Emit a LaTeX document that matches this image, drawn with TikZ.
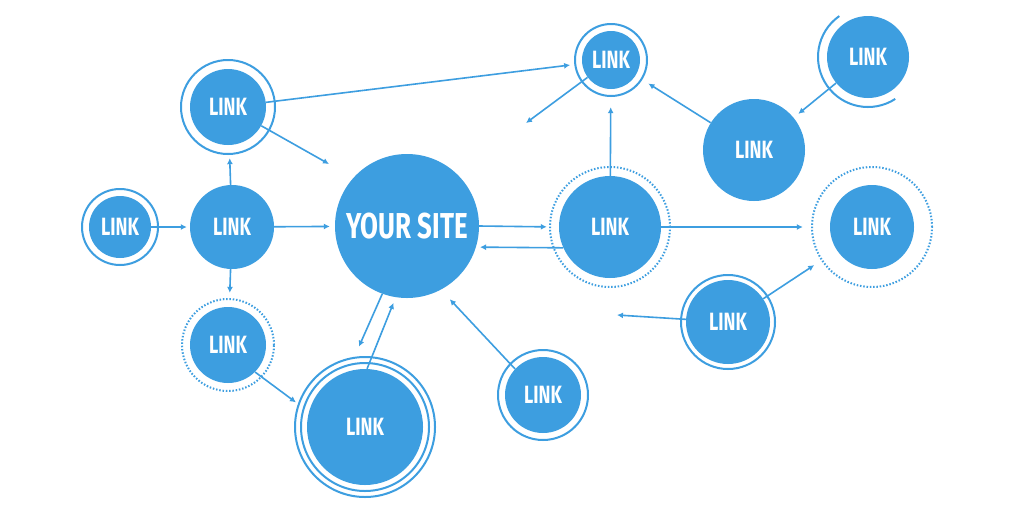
\documentclass[tikz,border=0pt]{standalone}
\usepackage{fontspec}
\setmainfont{Fira Sans}[FakeStretch=0.72]
\usetikzlibrary{arrows.meta}
\definecolor{linkblue}{RGB}{61,158,224}

\begin{document}
\begin{tikzpicture}[x=1pt,y=-1pt,
  bubble/.style={circle, fill=linkblue, text=white, inner sep=0pt, minimum size=#1,
    font=\bfseries\fontsize{25}{25}\selectfont},
  ring/.style={draw=linkblue, line width=2pt},
  dotring/.style={draw=linkblue, line width=2pt, dash pattern=on 1.5pt off 1.8pt},
  arr/.style={draw=linkblue, line width=1.6pt, -{Latex[length=6pt,width=6pt]}},
  stopshort/.style={shorten >=#1pt}]

\useasboundingbox (0,0) rectangle (1024,512);
\fill[white] (0,0) rectangle (1024,512);

% the site in the middle
\node[bubble=144pt, font=\bfseries\fontsize{36}{36}\selectfont] (site) at (407,226) {YOUR SITE};

% links, left side
\node[bubble=76pt] (l1) at (228,107) {LINK};
\node[bubble=62pt] (l2) at (120,227) {LINK};
\node[bubble=84pt] (l3) at (232,227) {LINK};
\node[bubble=76pt] (l4) at (228,345) {LINK};
\node[bubble=116pt] (l6) at (365,427) {LINK};
\node[bubble=76pt] (l7) at (543,395) {LINK};

% links, right side
\node[bubble=58pt] (l8) at (611,60) {LINK};
\node[bubble=102pt] (l9) at (610,227) {LINK};
\node[bubble=102pt] (l10) at (754,150) {LINK};
\node[bubble=82pt] (l11) at (868,57) {LINK};
\node[bubble=84pt] (l12) at (872,227) {LINK};
\node[bubble=84pt] (l13) at (728,322) {LINK};

% rings round the links
\foreach \n/\r in {l1/47pt, l2/38pt, l6/64pt, l6/70pt, l7/45pt, l8/36pt, l13/47pt}{
    \draw[ring] (\n) circle[radius=\r];
}
\foreach \n/\r in {l4/46pt, l9/60pt, l12/60pt}{
    \draw[dotring] (\n) circle[radius=\r];
}
\draw[ring] (l11) ++(125:50pt) arc[start angle=125, end angle=303, radius=50pt];

% free ends
\coordinate (c1) at (329,164);
\coordinate (c2) at (526,123);
\coordinate (c3) at (617,315);

% connectors
\draw[arr, stopshort=12] (l1) -- (l8);
\draw[arr] (l1) -- (c1);
\draw[arr, stopshort=13] (l3) -- (l1);
\draw[arr, stopshort=3] (l2) -- (l3);
\draw[arr, stopshort=5] (l3) -- (site);
\draw[arr, stopshort=14] (l3) -- (l4);
\draw[arr, stopshort=16] (l4.315) -- (l6.165);
\draw[arr, stopshort=27] (site.250) -- (l6.107);
\draw[arr, stopshort=6] (l6.88) -- (site.261);
\draw[arr, stopshort=13] (l7.137) -- (site.298);
\draw[arr, stopshort=12] (site.east) -- (l9.west);
\draw[arr, stopshort=4] (l9.204) -- (site.343);
\draw[arr, stopshort=18] (l9) -- (l8);
\draw[arr] (l8) -- (c2);
\draw[arr, stopshort=15] (l10) -- (l8);
\draw[arr, stopshort=6] (l11) -- (l10);
\draw[arr, stopshort=27] (l9) -- (l12);
\draw[arr, stopshort=27] (l13) -- (l12);
\draw[arr] (l13) -- (c3);

\end{tikzpicture}
\end{document}
